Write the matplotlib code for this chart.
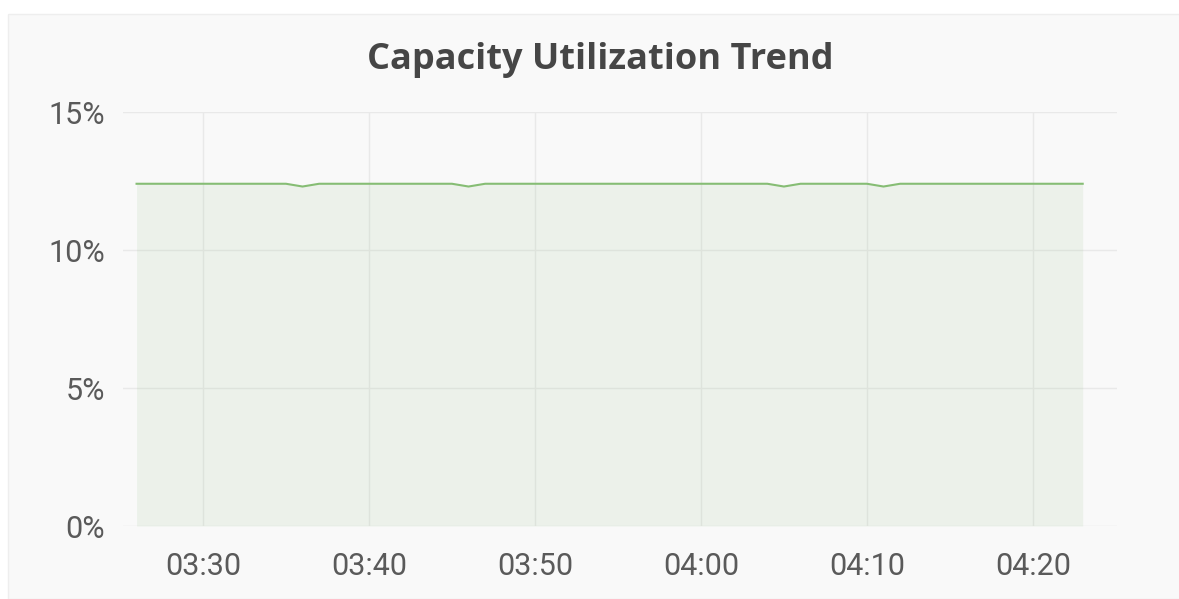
import numpy as np
import pandas as pd
from matplotlib import pyplot as plt
from matplotlib.patches import Rectangle
from matplotlib.ticker import FuncFormatter
import matplotlib.dates as mdates

# one sample per minute, 03:26 -> 04:23
start = "2024-01-01 03:26"
minutes = 58
util = [12.4] * minutes
# small dips in the series
util[10] = 12.3
util[20] = 12.3
util[39] = 12.3
util[45] = 12.3

times = pd.date_range(start, periods=minutes, freq="1min")
y_ticks = [0, 5, 10, 15]

fig = plt.figure(figsize=(11.79, 5.99), dpi=100, facecolor="white")

# panel background
fig.patches.append(Rectangle((8 / 1179, 0), 1.0, (599 - 14) / 599, transform=fig.transFigure,
                             facecolor="#f9f9f9", edgecolor="#eeeeee", linewidth=1, zorder=-5))

ax = fig.add_axes([123 / 1179, (599 - 526) / 599, (1117 - 123) / 1179, (526 - 112) / 599])
ax.set_facecolor("none")
ax.set_zorder(2)

ax.plot(times, util, color="#86bd74", linewidth=1.5, zorder=3)
ax.fill_between(times, util, 0, color="#7eb26d", alpha=0.1, linewidth=0, zorder=2)

ax.set_ylim(0, 15)
ax.set_xlim(pd.Timestamp("2024-01-01 03:25:11"), pd.Timestamp("2024-01-01 04:25:04"))
ax.set_yticks(y_ticks)
ax.yaxis.set_major_formatter(FuncFormatter(lambda v, p: "%d%%" % v))
ax.xaxis.set_major_locator(mdates.MinuteLocator(byminute=range(0, 60, 10)))
ax.xaxis.set_major_formatter(mdates.DateFormatter("%H:%M"))

ax.grid(True, color="#e9e9e9", linewidth=1, zorder=1)
for s in ax.spines.values():
    s.set_visible(False)
ax.tick_params(axis="both", length=0, colors="#5a5a5a", labelsize=22)
ax.tick_params(axis="y", pad=13)
ax.tick_params(axis="x", pad=19)
for lab in ax.get_xticklabels() + ax.get_yticklabels():
    lab.set_fontfamily("Roboto")

fig.text(600 / 1179, (599 - 60) / 599, "Capacity Utilization Trend", ha="center", va="center",
         fontsize=26, fontweight="bold", color="#464646", family="Open Sans")

plt.savefig("out.png")
